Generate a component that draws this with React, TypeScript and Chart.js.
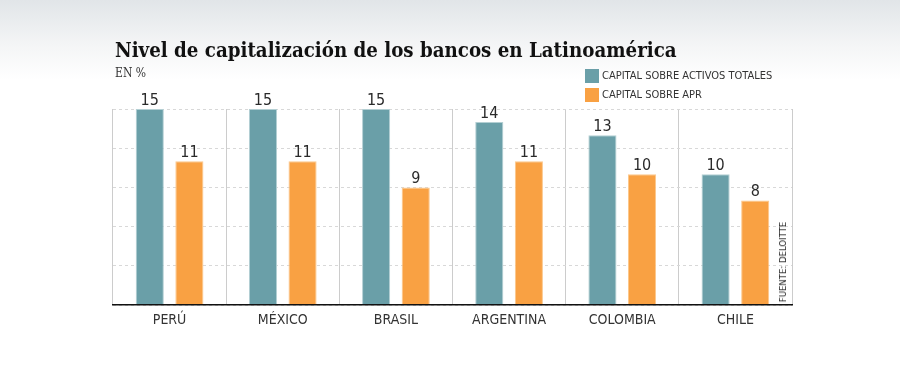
import React, { useEffect, useRef } from "react";
import { Chart, registerables } from "chart.js";

Chart.register(...registerables);

const categories = ["PERÚ", "MÉXICO", "BRASIL", "ARGENTINA", "COLOMBIA", "CHILE"];
const capitalActivos = [15, 15, 15, 14, 13, 10];
const capitalApr = [11, 11, 9, 11, 10, 8];
const seriesNames = ["CAPITAL SOBRE ACTIVOS TOTALES", "CAPITAL SOBRE APR"];
const yMax = 15;
const yStep = 3;

const TEAL = "#6a9fa8";
const TEAL_EDGE = "#b3cfd3";
const ORANGE = "#f9a143";
const ORANGE_EDGE = "#fcc88c";
const NARROW = "'Liberation Sans Narrow', 'DejaVu Sans Condensed', 'Roboto', sans-serif";
const SERIF = "'DejaVu Serif Condensed', 'DejaVu Serif', serif";

const valueLabels = {
  id: "valueLabels",
  afterDatasetsDraw(chart: any) {
    const ctx = chart.ctx;
    ctx.save();
    ctx.font = `16px ${NARROW}`;
    ctx.fillStyle = "#2a2a2a";
    ctx.textAlign = "center";
    ctx.textBaseline = "alphabetic";
    chart.data.datasets.forEach((ds: any, di: number) => {
      const meta = chart.getDatasetMeta(di);
      meta.data.forEach((el: any, i: number) => {
        ctx.fillText(String(ds.data[i]), el.x, el.y - 4);
      });
    });
    ctx.restore();
  },
};

export default function App() {
  const ref = useRef<HTMLCanvasElement | null>(null);

  useEffect(() => {
    if (!ref.current) return;
    const chart = new Chart(ref.current, {
      type: "bar",
      data: {
        labels: categories,
        datasets: [
          {
            label: seriesNames[0],
            data: capitalActivos,
            backgroundColor: TEAL,
            borderColor: TEAL_EDGE,
            borderWidth: 1,
            borderSkipped: "bottom",
          },
          {
            label: seriesNames[1],
            data: capitalApr,
            backgroundColor: ORANGE,
            borderColor: ORANGE_EDGE,
            borderWidth: 1,
            borderSkipped: "bottom",
          },
        ],
      },
      options: {
        animation: false,
        responsive: false,
        maintainAspectRatio: false,
        layout: { padding: { left: 113, right: 108, top: 109, bottom: 35 } },
        plugins: {
          legend: { display: false },
          tooltip: { enabled: false },
        },
        datasets: {
          bar: { categoryPercentage: 0.7, barPercentage: 0.71 },
        },
        scales: {
          x: {
            grid: {
              offset: true,
              drawTicks: false,
              color: (c: any) => (c.index === categories.length ? "#dcdcdc" : "#cccccc"),
              lineWidth: (c: any) => (c.index === categories.length ? 2 : 1),
            },
            border: { display: true, color: "#111", width: 1.5, z: 1 },
            ticks: {
              color: "#333",
              padding: 7,
              font: { family: NARROW, size: 14 },
            },
            afterFit: (s: any) => {
              s.height = 30;
            },
          },
          y: {
            min: 0,
            max: yMax,
            ticks: { display: false, stepSize: yStep },
            grid: { color: "#d8d8d8", drawTicks: false, lineWidth: 1 },
            border: { display: false, dash: [3, 3] },
            afterFit: (s: any) => {
              s.width = 0;
            },
          },
        },
      },
      plugins: [valueLabels],
    });
    return () => chart.destroy();
  }, []);

  return (
    <div
      style={{
        position: "absolute",
        left: 0,
        top: 0,
        width: 900,
        height: 370,
        overflow: "hidden",
        background: "linear-gradient(180deg, #e1e5e8 0px, #f4f5f6 45px, #ffffff 80px, #ffffff 370px)",
      }}
    >
      <canvas ref={ref} width={900} height={370} style={{ position: "absolute", left: 0, top: 0 }} />
      <div
        style={{
          position: "absolute",
          left: 115,
          top: 37,
          fontFamily: SERIF,
          fontWeight: "bold",
          fontSize: 20.3,
          color: "#111",
          whiteSpace: "nowrap",
          lineHeight: "26px",
        }}
      >
        Nivel de capitalización de los bancos en Latinoamérica
      </div>
      <div
        style={{
          position: "absolute",
          left: 115,
          top: 65,
          fontFamily: SERIF,
          fontSize: 12,
          color: "#333",
          whiteSpace: "nowrap",
          lineHeight: "16px",
        }}
      >
        EN %
      </div>
      {seriesNames.map((name, i) => (
        <div
          key={name}
          style={{
            position: "absolute",
            left: 585,
            top: 69 + i * 19,
            height: 14,
            display: "flex",
            alignItems: "center",
            whiteSpace: "nowrap",
          }}
        >
          <span
            style={{
              display: "inline-block",
              width: 14,
              height: 14,
              background: i === 0 ? TEAL : ORANGE,
              marginRight: 3,
            }}
          />
          <span style={{ fontFamily: NARROW, fontSize: 11, color: "#333", lineHeight: "14px" }}>{name}</span>
        </div>
      ))}
      <div
        style={{
          position: "absolute",
          left: 783,
          top: 262,
          transform: "translate(-50%, -50%) rotate(-90deg)",
          fontFamily: NARROW,
          fontSize: 9.5,
          color: "#222",
          whiteSpace: "nowrap",
          lineHeight: "10px",
        }}
      >
        FUENTE: DELOITTE
      </div>
    </div>
  );
}
